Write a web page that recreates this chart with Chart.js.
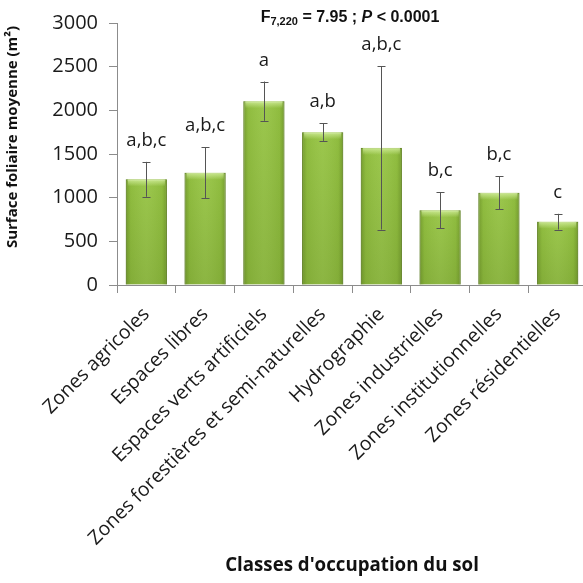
<!DOCTYPE html>
<html>
<head>
<meta charset="utf-8">
<script src="https://cdn.jsdelivr.net/npm/chart.js@4"></script>
<style>
  html, body { margin: 0; padding: 0; overflow: hidden; background: #fff; }
  #wrap { width: 590px; height: 583px; }
</style>
</head>
<body>
<div id="wrap"><canvas id="c" width="590" height="583"></canvas></div>
<script>
// Land-use classes and mean leaf area per class
const categories = [
  'Zones agricoles',
  'Espaces libres',
  'Espaces verts artificiels',
  'Zones forestières et semi-naturelles',
  'Hydrographie',
  'Zones industrielles',
  'Zones institutionnelles',
  'Zones résidentielles'
];
const means = [1210, 1285, 2105, 1750, 1570, 855, 1055, 725];
const errors = [200, 290, 225, 100, 935, 205, 190, 90];
const groupLetters = ['a,b,c', 'a,b,c', 'a', 'a,b', 'a,b,c', 'b,c', 'b,c', 'c'];
const yTicks = [0, 500, 1000, 1500, 2000, 2500, 3000];
const yTitle = 'Surface foliaire moyenne (m²)';
const xTitle = "Classes d'occupation du sol";

const FONT = "'Open Sans', 'Noto Sans', sans-serif";
const AXIS_GRAY = '#8c8c8c';

// Shading, error bars and group letters drawn on top of the bars
const barDecor = {
  id: 'barDecor',
  afterDatasetsDraw(chart) {
    const ctx = chart.ctx;
    const y = chart.scales.y;
    const meta = chart.getDatasetMeta(0);
    meta.data.forEach((bar, i) => {
      const w = bar.width;
      const left = bar.x - w / 2, right = bar.x + w / 2;
      const top = bar.y, base = bar.base;
      ctx.save();
      // darker edges, lighter middle
      const hg = ctx.createLinearGradient(left, 0, right, 0);
      hg.addColorStop(0, 'rgba(70,100,20,0.40)');
      hg.addColorStop(0.12, 'rgba(70,100,20,0.08)');
      hg.addColorStop(0.5, 'rgba(255,255,255,0.05)');
      hg.addColorStop(0.88, 'rgba(70,100,20,0.08)');
      hg.addColorStop(1, 'rgba(70,100,20,0.40)');
      ctx.fillStyle = hg;
      ctx.fillRect(left, top, w, base - top);
      // slightly darker toward the base
      const vg = ctx.createLinearGradient(0, top, 0, base);
      vg.addColorStop(0, 'rgba(70,100,20,0)');
      vg.addColorStop(1, 'rgba(70,100,20,0.18)');
      ctx.fillStyle = vg;
      ctx.fillRect(left, top, w, base - top);
      // light bevel along the top
      const tg = ctx.createLinearGradient(0, top, 0, top + 7);
      tg.addColorStop(0, 'rgba(220,245,170,0.75)');
      tg.addColorStop(1, 'rgba(220,245,170,0)');
      ctx.fillStyle = tg;
      ctx.fillRect(left + 2, top, w - 4, 7);
      ctx.restore();

      // error bar
      const hi = y.getPixelForValue(means[i] + errors[i]);
      const lo = y.getPixelForValue(means[i] - errors[i]);
      ctx.save();
      ctx.strokeStyle = '#555';
      ctx.lineWidth = 1;
      ctx.beginPath();
      const cx = Math.round(bar.x) + 0.5;
      ctx.moveTo(cx, hi); ctx.lineTo(cx, lo);
      ctx.moveTo(cx - 4, Math.round(hi) + 0.5); ctx.lineTo(cx + 4, Math.round(hi) + 0.5);
      ctx.moveTo(cx - 4, Math.round(lo) + 0.5); ctx.lineTo(cx + 4, Math.round(lo) + 0.5);
      ctx.stroke();

      // group letters
      ctx.fillStyle = '#1a1a1a';
      ctx.font = '18.5px ' + FONT;
      ctx.textAlign = 'center';
      ctx.textBaseline = 'alphabetic';
      ctx.fillText(groupLetters[i], bar.x, hi - 16);
      ctx.restore();
    });
  }
};

// ANOVA statistic above the plot and the vertical axis title
const textExtras = {
  id: 'textExtras',
  afterDraw(chart) {
    const ctx = chart.ctx;
    const B = 'bold 16px "Liberation Sans", Arial, sans-serif';
    const parts = [
      { t: 'F', f: B, dy: 0 },
      { t: '7,220', f: 'bold 11px "Liberation Sans", Arial, sans-serif', dy: 3 },
      { t: ' = 7.95 ; ', f: B, dy: 0 },
      { t: 'P', f: 'italic ' + B, dy: 0 },
      { t: ' < 0.0001', f: B, dy: 0 }
    ];
    ctx.save();
    let total = 0;
    parts.forEach(p => { ctx.font = p.f; p.w = ctx.measureText(p.t).width; total += p.w; });
    let x = 350 - total / 2;
    const baseY = 22;
    ctx.fillStyle = '#111';
    ctx.textBaseline = 'alphabetic';
    ctx.textAlign = 'left';
    parts.forEach(p => { ctx.font = p.f; ctx.fillText(p.t, x, baseY + p.dy); x += p.w; });
    ctx.restore();

    ctx.save();
    ctx.translate(13, 137);
    ctx.rotate(-Math.PI / 2);
    ctx.font = 'bold 15px ' + FONT;
    ctx.fillStyle = '#111';
    ctx.textAlign = 'center';
    ctx.textBaseline = 'middle';
    ctx.fillText(yTitle, 0, 0);
    ctx.restore();
  }
};

new Chart(document.getElementById('c'), {
  type: 'bar',
  data: {
    labels: categories,
    datasets: [{
      data: means,
      backgroundColor: '#96c443',
      borderColor: '#7a9e35',
      borderWidth: 1,
      barPercentage: 0.7,
      categoryPercentage: 1.0
    }]
  },
  options: {
    responsive: false,
    animation: false,
    layout: { padding: { top: 20, right: 3, left: 0, bottom: 0 } },
    plugins: { legend: { display: false }, tooltip: { enabled: false } },
    scales: {
      x: {
        grid: { drawOnChartArea: false, drawTicks: true, tickLength: 8, color: AXIS_GRAY, offset: true },
        border: { display: true, color: AXIS_GRAY },
        ticks: {
          minRotation: 45, maxRotation: 45, autoSkip: false,
          color: '#1a1a1a', font: { family: FONT, size: 19.5 }, padding: 10
        },
        title: {
          display: true, text: xTitle,
          color: '#111', font: { family: FONT, size: 18.7, weight: 'bold' },
          padding: { top: 0, bottom: 6 }
        },
        afterFit(scale) { scale.height = 298; }
      },
      y: {
        min: 0, max: 3000,
        afterBuildTicks(scale) { scale.ticks = yTicks.map(v => ({ value: v })); },
        grid: { drawOnChartArea: false, drawTicks: true, tickLength: 8, color: AXIS_GRAY },
        border: { display: true, color: AXIS_GRAY },
        ticks: {
          color: '#1a1a1a', font: { family: FONT, size: 20 }, padding: 11,
          callback: v => String(v)
        },
        afterFit(scale) { scale.width = 117; }
      }
    }
  },
  plugins: [barDecor, textExtras]
});
</script>
</body>
</html>
